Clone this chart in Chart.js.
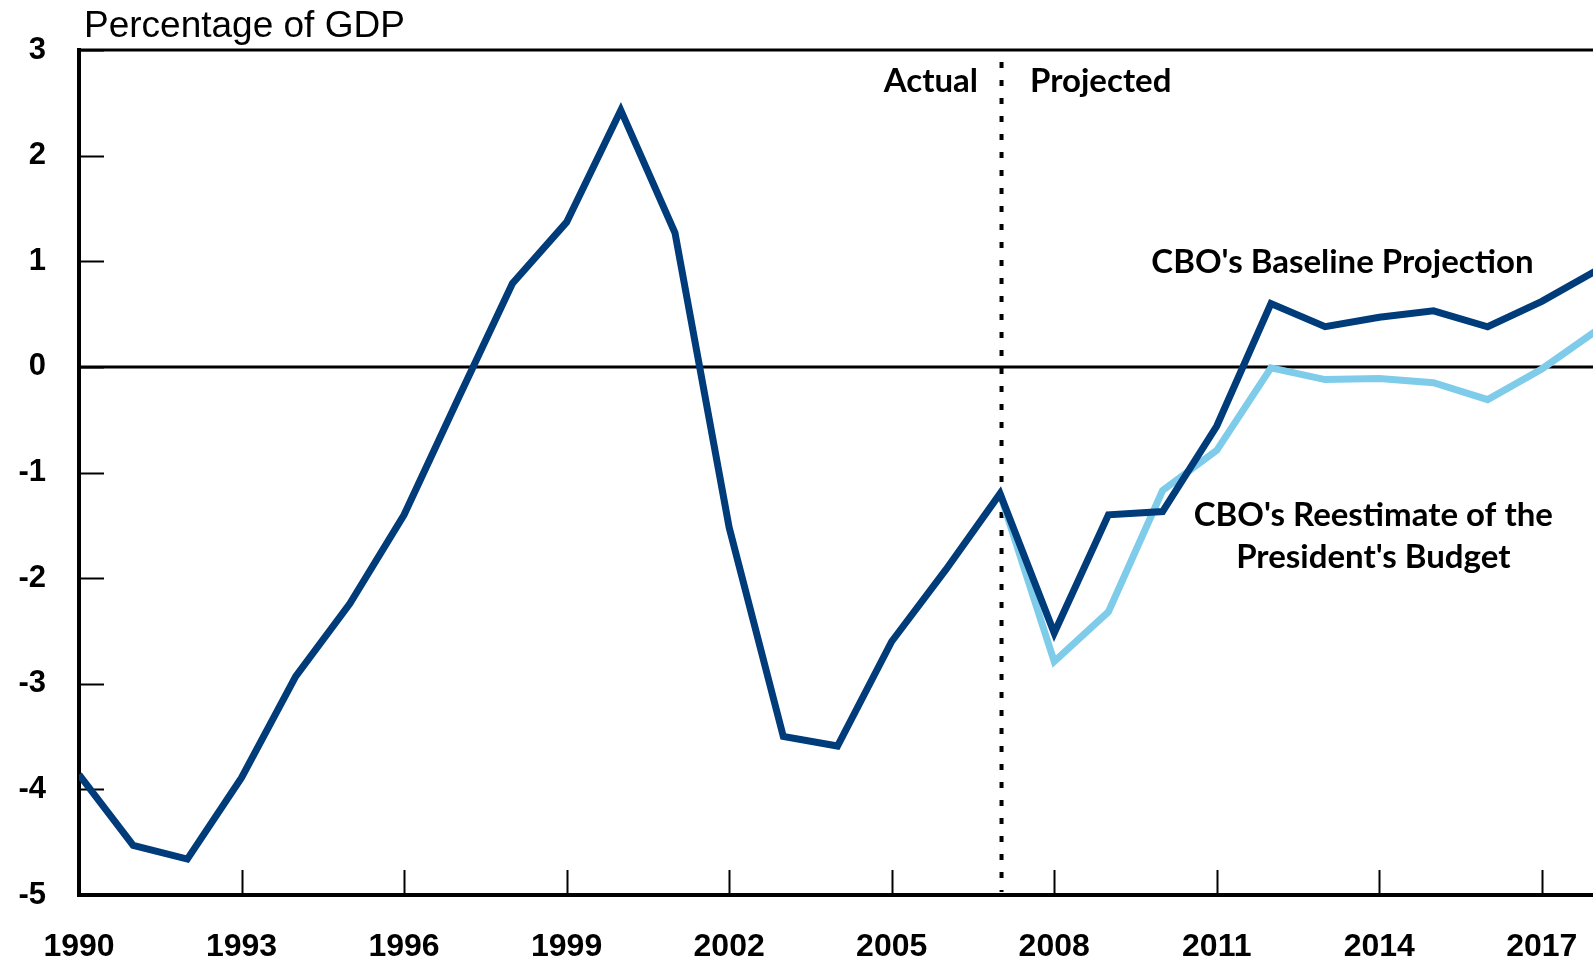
<!DOCTYPE html>
<html>
<head>
<meta charset="utf-8">
<script src="https://cdn.jsdelivr.net/npm/chart.js@4.4.1/dist/chart.umd.min.js"></script>
<style>
  html, body { margin: 0; padding: 0; background: #fff; overflow: hidden; }
  #wrap { position: absolute; left: 0; top: 0; width: 1596px; height: 965px; }
</style>
</head>
<body>
<div id="wrap"><canvas id="c" width="1596" height="965"></canvas></div>
<script>
// ---- Data ----
const years = [1990,1991,1992,1993,1994,1995,1996,1997,1998,1999,2000,2001,2002,2003,2004,2005,2006,2007,2008,2009,2010,2011,2012,2013,2014,2015,2016,2017,2018];
const baseline = [-3.86,-4.53,-4.66,-3.89,-2.93,-2.24,-1.40,-0.30,0.79,1.37,2.43,1.27,-1.52,-3.50,-3.59,-2.60,-1.92,-1.20,-2.52,-1.40,-1.37,-0.56,0.60,0.38,0.47,0.53,0.38,0.62,0.91];
const reestimate = [null,null,null,null,null,null,null,null,null,null,null,null,null,null,null,null,null,-1.20,-2.79,-2.32,-1.17,-0.79,-0.01,-0.12,-0.11,-0.15,-0.31,-0.02,0.34];
const xTickYears = [1990,1993,1996,1999,2002,2005,2008,2011,2014,2017];
const yTickValues = [-5,-4,-3,-2,-1,0,1,2,3];
const seriesNames = ["CBO's Baseline Projection", "CBO's Reestimate of the President's Budget"];
const yTitle = "Percentage of GDP";
const splitYear = 2007;

// ---- Styles ----
const DARK = '#003B7A';
const LIGHT = '#7FCCEA';
const annoFont = 'bold 33px Lato, "Open Sans", sans-serif';
const annotations = [
  { lines: ['Actual'], x: splitYear, dx: -22, y: null, py: 81, align: 'right' },
  { lines: ['Projected'], x: splitYear, dx: 30, y: null, py: 81, align: 'left' },
  { lines: ["CBO's Baseline Projection"], x: 2013.32, dx: 0, y: 0.99, align: 'center' },
  { lines: ["CBO's Reestimate of the", "President's Budget"], x: 2013.89, dx: 0, y: -1.41, lineGap: 42, align: 'center' }
];

const decor = {
  id: 'decor',
  beforeDatasetsDraw(chart) {
    const { ctx, chartArea: a, scales: { x, y } } = chart;
    ctx.save();
    ctx.strokeStyle = '#000';
    // zero line
    ctx.lineWidth = 3;
    const y0 = y.getPixelForValue(0);
    ctx.beginPath(); ctx.moveTo(a.left, y0); ctx.lineTo(a.right, y0); ctx.stroke();
    // top border
    ctx.beginPath(); ctx.moveTo(a.left - 1.5, a.top); ctx.lineTo(a.right, a.top); ctx.stroke();
    // inward ticks
    ctx.lineWidth = 2;
    xTickYears.forEach(v => {
      const px = Math.round(x.getPixelForValue(v)) + 0.5;
      ctx.beginPath(); ctx.moveTo(px, a.bottom); ctx.lineTo(px, a.bottom - 25); ctx.stroke();
    });
    yTickValues.forEach(v => {
      const py = Math.round(y.getPixelForValue(v)) + 0.5;
      ctx.beginPath(); ctx.moveTo(a.left, py); ctx.lineTo(a.left + 25, py); ctx.stroke();
    });
    // dotted split line
    const xs = x.getPixelForValue(splitYear) + 1.5;
    ctx.lineWidth = 4;
    ctx.setLineDash([6, 12]);
    ctx.beginPath(); ctx.moveTo(xs, a.top + 12); ctx.lineTo(xs, a.bottom - 3); ctx.stroke();
    ctx.setLineDash([]);
    ctx.restore();
  },
  afterDraw(chart) {
    const { ctx, scales: { x, y } } = chart;
    ctx.save();
    // title
    ctx.fillStyle = '#000';
    ctx.font = '37px "Liberation Sans", Arial, sans-serif';
    ctx.textAlign = 'left';
    ctx.textBaseline = 'alphabetic';
    ctx.fillText(yTitle, 84, 37);
    // annotations
    ctx.font = annoFont;
    ctx.textBaseline = 'middle';
    annotations.forEach(an => {
      const px = x.getPixelForValue(an.x) + an.dx;
      const py = an.y === null ? an.py : y.getPixelForValue(an.y);
      ctx.textAlign = an.align;
      an.lines.forEach((t, i) => ctx.fillText(t, px, py + i * (an.lineGap || 0)));
    });
    ctx.restore();
  }
};

new Chart(document.getElementById('c'), {
  type: 'line',
  data: {
    datasets: [
      { label: seriesNames[0], data: years.map((yr, i) => ({ x: yr, y: baseline[i] })),
        borderColor: DARK, borderWidth: 7, pointRadius: 0, tension: 0,
        borderJoinStyle: 'miter', borderCapStyle: 'butt', fill: false },
      { label: seriesNames[1], data: years.map((yr, i) => ({ x: yr, y: reestimate[i] })),
        borderColor: LIGHT, borderWidth: 7, pointRadius: 0, tension: 0,
        borderJoinStyle: 'miter', borderCapStyle: 'butt', fill: false, spanGaps: false }
    ]
  },
  options: {
    responsive: false,
    animation: false,
    devicePixelRatio: 1,
    layout: { padding: { top: 50, left: 0, right: 0, bottom: 0 } },
    plugins: { legend: { display: false }, tooltip: { enabled: false }, title: { display: false } },
    scales: {
      x: {
        type: 'linear', min: 1990, max: 2018,
        afterFit: s => { s.height = 70; s.paddingLeft = 0; s.paddingRight = 0; },
        afterBuildTicks: s => { s.ticks = xTickYears.map(v => ({ value: v })); },
        grid: { display: false, drawTicks: false },
        border: { display: true, color: '#000', width: 4 },
        ticks: {
          autoSkip: false, maxRotation: 0, padding: 33, color: '#000',
          font: { family: '"Liberation Sans", Arial, sans-serif', weight: 'bold', size: 32 },
          callback: v => String(v)
        }
      },
      y: {
        min: -5, max: 3,
        afterFit: s => { s.width = 79; s.paddingTop = 0; s.paddingBottom = 0; },
        afterBuildTicks: s => { s.ticks = yTickValues.map(v => ({ value: v })); },
        grid: { display: false, drawTicks: false },
        border: { display: true, color: '#000', width: 4 },
        ticks: {
          padding: 33, color: '#000',
          font: { family: '"Liberation Sans", Arial, sans-serif', weight: 'bold', size: 31 },
          callback: v => String(v)
        }
      }
    }
  },
  plugins: [decor]
});
</script>
</body>
</html>
